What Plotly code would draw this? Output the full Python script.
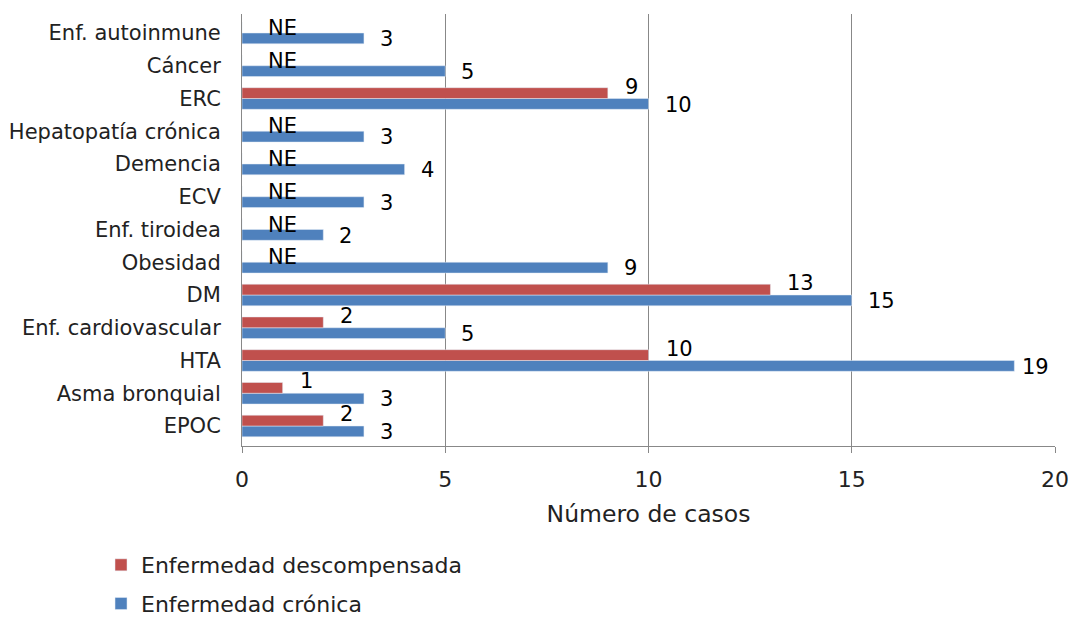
import plotly.graph_objects as go

categories = ["EPOC", "Asma bronquial", "HTA", "Enf. cardiovascular", "DM", "Obesidad",
              "Enf. tiroidea", "ECV", "Demencia", "Hepatopatía crónica", "ERC", "Cáncer",
              "Enf. autoinmune"]
cronica = [3, 3, 19, 5, 15, 9, 2, 3, 4, 3, 10, 5, 3]
descompensada = [2, 1, 10, 2, 13, None, None, None, None, None, 9, None, None]

BLUE = "#4F81BD"
RED = "#C0504D"
FONT = "DejaVu Sans"
XMAX = 20

fig = go.Figure()
fig.add_trace(go.Bar(y=categories, x=cronica, orientation="h", name="Enfermedad crónica",
                     marker=dict(color=BLUE), legend="legend2"))
fig.add_trace(go.Bar(y=categories, x=[v if v is not None else 0 for v in descompensada],
                     orientation="h", name="Enfermedad descompensada",
                     marker=dict(color=RED), legend="legend"))

LBL = dict(family=FONT, size=21, color="#000")
annotations = []
for c, v in zip(categories, cronica):
    shift = 6 if v > XMAX - 1.5 else 14
    annotations.append(dict(x=v, y=c, xref="x", yref="y", text=str(v), showarrow=False,
                            xanchor="left", yanchor="middle", xshift=shift, yshift=-6, font=LBL))
for c, v in zip(categories, descompensada):
    if v is None:
        annotations.append(dict(x=0, y=c, xref="x", yref="y", text="NE", showarrow=False,
                                xanchor="left", yanchor="middle", xshift=24, yshift=5, font=LBL))
    else:
        annotations.append(dict(x=v, y=c, xref="x", yref="y", text=str(v), showarrow=False,
                                xanchor="left", yanchor="middle", xshift=15, yshift=12, font=LBL))

LEG_FONT = dict(family=FONT, size=22, color="#222")
fig.update_layout(
    width=1073, height=619,
    margin=dict(l=242, r=18, t=14, b=173, autoexpand=False),
    paper_bgcolor="white", plot_bgcolor="white",
    barmode="group", bargap=0.34, bargroupgap=0,
    font=dict(family=FONT, size=20, color="#222"),
    annotations=annotations,
    showlegend=True,
    legend=dict(x=-0.1734, y=-0.2755, xanchor="left", yanchor="middle", orientation="v",
                font=LEG_FONT, itemwidth=30, bgcolor="rgba(0,0,0,0)"),
    legend2=dict(x=-0.1734, y=-0.365, xanchor="left", yanchor="middle", orientation="v",
                 font=LEG_FONT, itemwidth=30, bgcolor="rgba(0,0,0,0)"),
    xaxis=dict(range=[0, XMAX], dtick=5, showgrid=True, gridcolor="#888", gridwidth=1,
               showline=True, linecolor="#888", ticks="outside", ticklen=6, tickcolor="#888",
               zeroline=False, automargin=False, ticklabelstandoff=8,
               tickfont=dict(family=FONT, size=22, color="#222"),
               title=dict(text="Número de casos", font=dict(family=FONT, size=23.5, color="#222"),
                          standoff=14)),
    yaxis=dict(showline=True, linecolor="#888", ticks="", showgrid=False, automargin=False,
               tickfont=dict(family=FONT, size=21, color="#222"), ticklabelstandoff=16,
               categoryorder="array", categoryarray=categories),
)

fig.write_html("out.html")
